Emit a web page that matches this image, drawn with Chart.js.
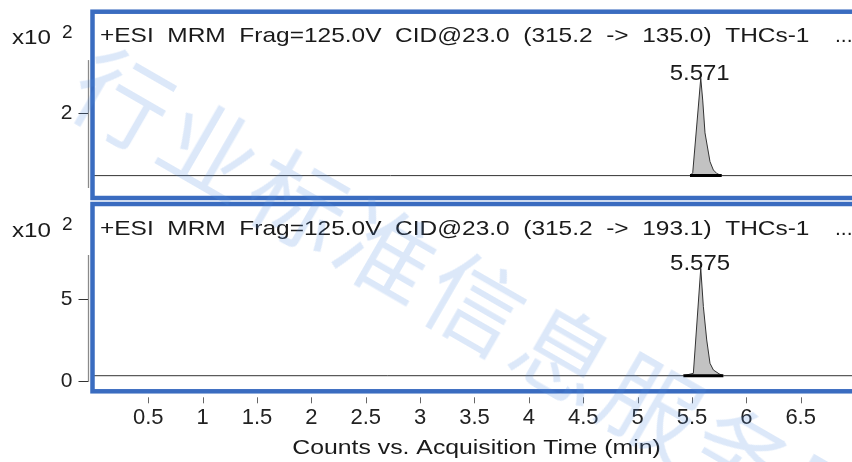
<!DOCTYPE html>
<html>
<head>
<meta charset="utf-8">
<script src="https://cdn.jsdelivr.net/npm/chart.js@4.4.0/dist/chart.umd.min.js"></script>
<style>
  html, body { margin: 0; padding: 0; background: #fff; }
  #wrap { position: relative; width: 852px; height: 462px; overflow: hidden; }
  canvas { position: absolute; left: 0; top: 0; }
  #wm {
    position: absolute; left: 83px; top: 23px;
    font-family: 'Noto Sans CJK SC'; font-size: 96px; line-height: 96px; letter-spacing: 6px;
    color: rgba(80, 140, 225, 0.2);
    transform: rotate(30deg); transform-origin: 0 50%;
    white-space: nowrap; pointer-events: none;
  }
</style>
</head>
<body>
<div id="wrap">
  <canvas id="topChart" width="852" height="462"></canvas>
  <canvas id="bottomChart" width="852" height="462"></canvas>
  <div id="wm">行业标准信息服务网</div>
</div>
<script>
// x axis (minutes)
const xRange = [-0.013, 6.972];
const xTicks = [0.5, 1, 1.5, 2, 2.5, 3, 3.5, 4, 4.5, 5, 5.5, 6, 6.5];
const xTitle = 'Counts vs. Acquisition Time (min)';

// top trace: 315.2 -> 135.0 (counts x10^2)
const topTimes  = [-0.1, 5.482, 5.507, 5.581, 5.599, 5.62, 5.666, 5.697, 5.73, 5.774, 7.1];
const topCounts = [0.44, 0.44, 0.51, 2.875, 2.33, 1.51, 0.79, 0.58, 0.49, 0.44, 0.44];
const topBaseTimes = [5.482, 5.774];
const topYRange = [-0.12, 4.54];
const topAxisLine = [0.13, 3.33];
const topYTicks = [2];

// bottom trace: 315.2 -> 193.1 (counts x10^2)
const bottomTimes  = [-0.1, 5.421, 5.513, 5.581, 5.605, 5.636, 5.666, 5.697, 5.75, 5.789, 7.1];
const bottomCounts = [0.307, 0.307, 0.45, 6.9, 4.55, 2.5, 1.07, 0.66, 0.42, 0.307, 0.307];
const bottomBaseTimes = [5.421, 5.789];
const bottomYRange = [-0.65, 10.85];
const bottomAxisLine = [-0.08, 7.72];
const bottomYTicks = [0, 5];

const titles = [
  '+ESI  MRM  Frag=125.0V  CID@23.0  (315.2  ->  135.0)  THCs-1',
  '+ESI  MRM  Frag=125.0V  CID@23.0  (315.2  ->  193.1)  THCs-1'
];
const peakTimes = [5.571, 5.575];
const peakLabels = ['5.571', '5.575'];
const peakHeights = [2.875, 6.9];

const FONT = "'Liberation Sans', Arial, sans-serif";
Chart.defaults.font.family = FONT;
Chart.defaults.color = '#222';

// the source text is a bit wider than Liberation Sans, so stretch it
function wideText(ctx, text, x, y, sx) {
  ctx.save();
  ctx.translate(x, y);
  ctx.scale(sx, 1);
  ctx.fillText(text, 0, 0);
  ctx.restore();
}

const panelDecor = {
  id: 'panelDecor',
  afterDraw(chart, args, opts) {
    const { ctx, chartArea: a, scales: { x, y } } = chart;
    ctx.save();

    // blue frame round the plot
    ctx.strokeStyle = '#3a6cc0';
    ctx.lineWidth = 4.5;
    ctx.strokeRect(a.left, a.top, a.right - a.left + 20, a.bottom - a.top);

    // y axis line, left of the frame
    const ax = a.left - 4;
    ctx.strokeStyle = '#8a8a8a';
    ctx.lineWidth = 1.3;
    ctx.beginPath();
    ctx.moveTo(ax, y.getPixelForValue(opts.axisLine[1]));
    ctx.lineTo(ax, y.getPixelForValue(opts.axisLine[0]));
    ctx.stroke();

    // y tick dashes
    ctx.strokeStyle = '#333';
    ctx.lineWidth = 1;
    y.ticks.forEach(t => {
      const py = Math.round(y.getPixelForValue(t.value)) + 0.5;
      ctx.beginPath();
      ctx.moveTo(ax - 10, py);
      ctx.lineTo(ax - 0.5, py);
      ctx.stroke();
    });

    ctx.fillStyle = '#1a1a1a';
    ctx.textBaseline = 'middle';
    ctx.textAlign = 'left';

    // x tick marks under the frame + axis title
    if (opts.xMarks) {
      ctx.strokeStyle = '#666';
      x.ticks.forEach(t => {
        const px = Math.round(x.getPixelForValue(t.value)) + 0.5;
        ctx.beginPath();
        ctx.moveTo(px, a.bottom + 6);
        ctx.lineTo(px, a.bottom + 12);
        ctx.stroke();
      });
      ctx.font = '20px ' + FONT;
      ctx.textAlign = 'center';
      wideText(ctx, xTitle, 476.5, 448, 1.24);
      ctx.textAlign = 'left';
    }

    // panel title
    ctx.font = '21px ' + FONT;
    wideText(ctx, opts.title, a.left + 7.5, a.top + 25, 1.165);
    ctx.fillText('...', 835, a.top + 25);

    // x10^2
    wideText(ctx, 'x10', 12, a.top + 27, 1.15);
    ctx.font = '19px ' + FONT;
    ctx.fillText('2', 62, a.top + 21);

    // peak label
    ctx.font = '22px ' + FONT;
    ctx.textAlign = 'center';
    wideText(ctx, opts.peakLabel, x.getPixelForValue(opts.peakTime), y.getPixelForValue(opts.peakHeight) - 4, 1.09);

    ctx.restore();
  }
};

function makeChart(id, p) {
  const trace = p.times.map((t, i) => ({ x: t, y: p.counts[i] }));
  const base = p.baseTimes.map(t => ({ x: t, y: p.counts[0] }));
  return new Chart(document.getElementById(id), {
    type: 'line',
    data: {
      datasets: [
        { data: base, borderColor: '#000', borderWidth: 3, pointRadius: 0, fill: false },
        {
          data: trace, borderColor: '#333', borderWidth: 1, pointRadius: 0, tension: 0,
          fill: { value: p.counts[0] }, backgroundColor: '#c2c2c2'
        }
      ]
    },
    options: {
      responsive: false,
      animation: false,
      devicePixelRatio: 1,
      layout: { padding: p.padding },
      plugins: {
        legend: { display: false },
        tooltip: { enabled: false },
        panelDecor: {
          title: p.title, peakLabel: p.peakLabel, peakTime: p.peakTime, peakHeight: p.peakHeight,
          axisLine: p.axisLine, xMarks: p.showX
        }
      },
      scales: {
        x: {
          type: 'linear',
          min: xRange[0], max: xRange[1],
          display: p.showX,
          afterBuildTicks: s => { s.ticks = xTicks.map(v => ({ value: v })); },
          afterFit: s => { s.height = p.showX ? 70.7 : 0; },
          grid: { display: false, drawTicks: false },
          border: { display: false },
          ticks: { padding: 13, font: { size: 22 }, color: '#222', callback: v => String(v) }
        },
        y: {
          min: p.yRange[0], max: p.yRange[1],
          afterBuildTicks: s => { s.ticks = p.yTicks.map(v => ({ value: v })); },
          afterFit: s => { s.width = 92.5; s.paddingTop = 0; s.paddingBottom = 0; },
          grid: { display: false, drawTicks: false },
          border: { display: false },
          ticks: { padding: 20, font: { size: 21 }, color: '#222', callback: v => String(v) }
        }
      }
    },
    plugins: [panelDecor]
  });
}

makeChart('topChart', {
  times: topTimes, counts: topCounts, baseTimes: topBaseTimes,
  yRange: topYRange, yTicks: topYTicks, axisLine: topAxisLine,
  title: titles[0], peakLabel: peakLabels[0], peakTime: peakTimes[0], peakHeight: peakHeights[0],
  showX: false, padding: { top: 11.7, bottom: 264, left: 0, right: 0 }
});

makeChart('bottomChart', {
  times: bottomTimes, counts: bottomCounts, baseTimes: bottomBaseTimes,
  yRange: bottomYRange, yTicks: bottomYTicks, axisLine: bottomAxisLine,
  title: titles[1], peakLabel: peakLabels[1], peakTime: peakTimes[1], peakHeight: peakHeights[1],
  showX: true, padding: { top: 204, bottom: 0, left: 0, right: 0 }
});
</script>
</body>
</html>
